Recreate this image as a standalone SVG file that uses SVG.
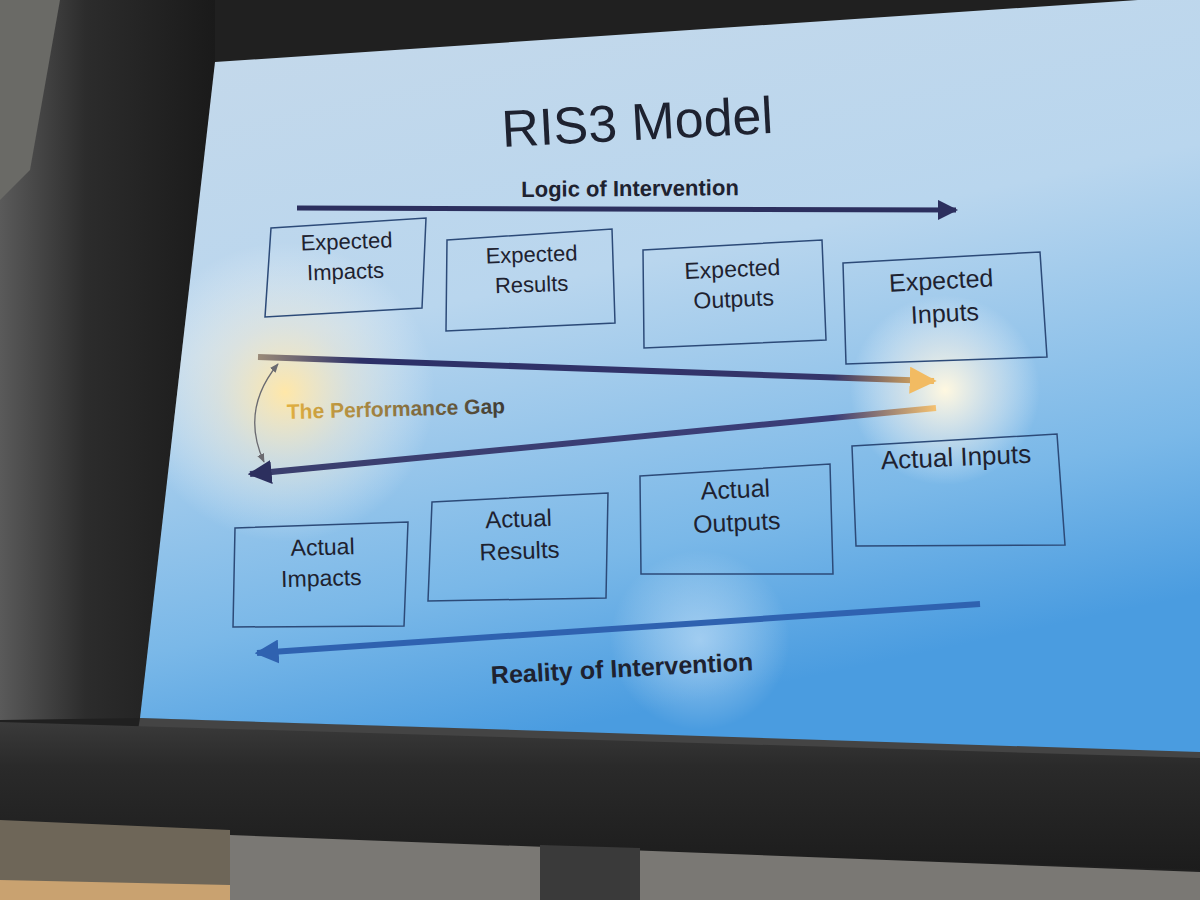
<svg xmlns="http://www.w3.org/2000/svg" width="1200" height="900" viewBox="0 0 1200 900">
<defs>
<linearGradient id="scr" x1="0" y1="0" x2="0.3" y2="1">
<stop offset="0" stop-color="#c6d9ea"/>
<stop offset="0.45" stop-color="#b9d6ee"/>
<stop offset="0.8" stop-color="#7ab8e8"/>
<stop offset="1" stop-color="#4a9ce0"/>
</linearGradient>
<radialGradient id="glare1" cx="285" cy="392" r="150" gradientUnits="userSpaceOnUse">
<stop offset="0" stop-color="#ffe7a8" stop-opacity="1"/>
<stop offset="0.45" stop-color="#f5ecd6" stop-opacity="0.55"/>
<stop offset="1" stop-color="#ffffff" stop-opacity="0"/>
</radialGradient>
<radialGradient id="glare2" cx="945" cy="390" r="95" gradientUnits="userSpaceOnUse">
<stop offset="0" stop-color="#fff8e0" stop-opacity="1"/>
<stop offset="0.5" stop-color="#f5f2ea" stop-opacity="0.55"/>
<stop offset="1" stop-color="#ffffff" stop-opacity="0"/>
</radialGradient>
<radialGradient id="glare3" cx="700" cy="640" r="90" gradientUnits="userSpaceOnUse">
<stop offset="0" stop-color="#e6f3ff" stop-opacity="0.5"/>
<stop offset="1" stop-color="#ffffff" stop-opacity="0"/>
</radialGradient>
<linearGradient id="gapTop" x1="258" y1="0" x2="935" y2="0" gradientUnits="userSpaceOnUse">
<stop offset="0" stop-color="#9a8a78"/>
<stop offset="0.15" stop-color="#2c3068"/>
<stop offset="0.85" stop-color="#35356a"/>
<stop offset="1" stop-color="#f2b95a"/>
</linearGradient>
<linearGradient id="gapBot" x1="935" y1="0" x2="262" y2="0" gradientUnits="userSpaceOnUse">
<stop offset="0" stop-color="#f3c070"/>
<stop offset="0.15" stop-color="#3a3d78"/>
<stop offset="1" stop-color="#3b3f6e"/>
</linearGradient>
<linearGradient id="gapText" x1="287" y1="0" x2="548" y2="0" gradientUnits="userSpaceOnUse">
<stop offset="0" stop-color="#e2b040"/>
<stop offset="0.45" stop-color="#8a7240"/>
<stop offset="1" stop-color="#1e2430"/>
</linearGradient>
<linearGradient id="bezelB" x1="0" y1="0" x2="0" y2="1">
<stop offset="0" stop-color="#3a3a3a"/>
<stop offset="0.3" stop-color="#2a2a2a"/>
<stop offset="1" stop-color="#1c1c1c"/>
</linearGradient>
<linearGradient id="leftSide" x1="0" y1="0" x2="1" y2="0">
<stop offset="0" stop-color="#5a5a5a"/>
<stop offset="0.4" stop-color="#2c2c2c"/>
<stop offset="1" stop-color="#1a1a1a"/>
</linearGradient>
<marker id="ahNavy" viewBox="0 0 10 10" refX="9" refY="5" markerWidth="4" markerHeight="4" orient="auto" markerUnits="strokeWidth">
<path d="M0,0 L10,5 L0,10 z" fill="#2c2f5e"/>
</marker>
<marker id="ahGold" viewBox="0 0 10 10" refX="9" refY="5" markerWidth="4.5" markerHeight="4.5" orient="auto" markerUnits="strokeWidth">
<path d="M0,0 L10,5 L0,10 z" fill="#f2bb62"/>
</marker>
<marker id="ahBlue" viewBox="0 0 10 10" refX="9" refY="5" markerWidth="4" markerHeight="4" orient="auto" markerUnits="strokeWidth">
<path d="M0,0 L10,5 L0,10 z" fill="#2f62b0"/>
</marker>
<marker id="ahThin" viewBox="0 0 10 10" refX="9" refY="5" markerWidth="7" markerHeight="7" orient="auto-start-reverse" markerUnits="strokeWidth">
<path d="M0,1 L10,5 L0,9 z" fill="#6a6a70"/>
</marker>
</defs>
<style>
.box{fill:none;stroke:#2c4a78;stroke-width:1.5}
.lbl{font-family:"Liberation Sans",Arial,sans-serif;fill:#1e2230;text-anchor:middle}
.b{font-weight:bold}
</style>
<!-- monitor frame -->
<rect x="0" y="0" width="1200" height="900" fill="#202020"/>
<polygon points="0,0 215,0 215,62 140,718 0,720" fill="url(#leftSide)"/>
<polygon points="0,0 60,0 30,170 0,200" fill="#6a6a66"/>
<polygon points="140,718 1200,750 1200,760 138,730" fill="#444"/>
<polygon points="0,722 1200,758 1200,870 0,830" fill="url(#bezelB)"/>
<polygon points="0,820 230,830 230,900 0,900" fill="#6e6658"/>
<polygon points="0,880 230,885 230,900 0,900" fill="#c9a270"/>
<polygon points="230,835 1200,872 1200,900 230,900" fill="#7a7874"/>
<polygon points="540,845 640,848 640,900 540,900" fill="#3a3a3a"/>
<!-- screen -->
<polygon id="screen" points="215,62 1138,0 1200,0 1200,752 140,718" fill="url(#scr)"/>
<polygon points="215,62 1138,0 1200,0 1200,752 140,718" fill="url(#glare1)"/>
<polygon points="215,62 1138,0 1200,0 1200,752 140,718" fill="url(#glare2)"/>
<polygon points="215,62 1138,0 1200,0 1200,752 140,718" fill="url(#glare3)"/>
<!-- title -->
<g id="title">
<text class="lbl" x="637" y="140" font-size="52" fill="#1a1c28" transform="rotate(-3 637 120)">RIS3 Model</text>
</g>
<!-- connectors -->
<g id="connectors" fill="none">
<line x1="297" y1="208" x2="956" y2="210" stroke="#2c2f5e" stroke-width="5" marker-end="url(#ahNavy)"/>
<line x1="258" y1="357" x2="934" y2="381" stroke="url(#gapTop)" stroke-width="6" marker-end="url(#ahGold)"/>
<line x1="936" y1="408" x2="250" y2="474" stroke="url(#gapBot)" stroke-width="6" marker-end="url(#ahNavy)"/>
<path d="M278,364 Q240,410 264,462" stroke="#6a6a70" stroke-width="1.3" marker-start="url(#ahThin)" marker-end="url(#ahThin)"/>
<line x1="980" y1="604" x2="257" y2="653" stroke="#2f62b0" stroke-width="6" marker-end="url(#ahBlue)"/>
</g>
<g id="lbl-logic"><text class="lbl b" x="630" y="196" font-size="22" transform="rotate(-0.5 630 190)">Logic of Intervention</text></g>
<g id="lbl-gap"><text x="287" y="419" font-size="21" font-weight="bold" font-family="Liberation Sans,Arial,sans-serif" fill="url(#gapText)" transform="rotate(-1.5 287 419)">The Performance Gap</text></g>
<g id="lbl-reality"><text class="lbl b" x="622" y="677" font-size="25" transform="rotate(-3 622 668)">Reality of Intervention</text></g>
<!-- expected boxes -->
<g id="exp-impacts">
<polygon class="box" points="271,228 426,218 422,308 265,317"/>
<text class="lbl" font-size="22" transform="rotate(-2 346 255)"><tspan x="347" y="249">Expected</tspan><tspan x="345" y="279">Impacts</tspan></text>
</g>
<g id="exp-results">
<polygon class="box" points="447,240 612,229 615,323 446,331"/>
<text class="lbl" font-size="22" transform="rotate(-2 531 268)"><tspan x="532" y="262">Expected</tspan><tspan x="531" y="292">Results</tspan></text>
</g>
<g id="exp-outputs">
<polygon class="box" points="643,250 822,240 826,340 644,348"/>
<text class="lbl" font-size="23" transform="rotate(-2.5 733 284)"><tspan x="733" y="277">Expected</tspan><tspan x="733" y="307">Outputs</tspan></text>
</g>
<g id="exp-inputs">
<polygon class="box" points="843,263 1040,252 1047,357 846,364"/>
<text class="lbl" font-size="25" transform="rotate(-3 942 296)"><tspan x="942" y="289">Expected</tspan><tspan x="944" y="322">Inputs</tspan></text>
</g>
<!-- actual boxes -->
<g id="act-impacts">
<polygon class="box" points="235,528 408,522 404,626 233,627"/>
<text class="lbl" font-size="23" transform="rotate(-1.5 322 563)"><tspan x="323" y="555">Actual</tspan><tspan x="321" y="586">Impacts</tspan></text>
</g>
<g id="act-results">
<polygon class="box" points="432,502 608,493 606,598 428,601"/>
<text class="lbl" font-size="24" transform="rotate(-2 519 535)"><tspan x="519" y="527">Actual</tspan><tspan x="519" y="559">Results</tspan></text>
</g>
<g id="act-outputs">
<polygon class="box" points="640,476 830,464 833,574 641,574"/>
<text class="lbl" font-size="25" transform="rotate(-2.5 736 505)"><tspan x="736" y="498">Actual</tspan><tspan x="736" y="531">Outputs</tspan></text>
</g>
<g id="act-inputs">
<polygon class="box" points="852,446 1057,434 1065,545 856,546"/>
<text class="lbl" font-size="26" transform="rotate(-2.5 956 458)"><tspan x="956" y="466">Actual Inputs</tspan></text>
</g>
</svg>
